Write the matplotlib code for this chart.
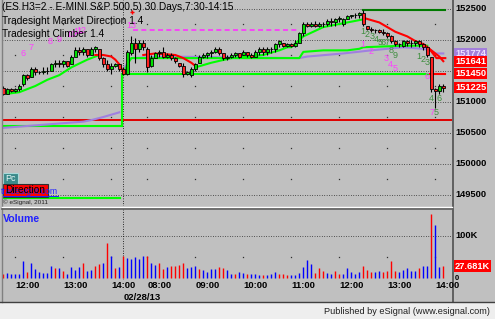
import matplotlib
matplotlib.use("Agg")
import matplotlib.pyplot as plt
import matplotlib.transforms as mtransforms
from matplotlib.patches import Rectangle
from matplotlib.lines import Line2D

W, H = 495, 319
BG = "#C0C0C0"
FONT = "Liberation Sans"

# ---- ES H3 5-minute bars, 11:45 on day 1 through 14:10 on 02/28/13 ----
bar_high = [151250, 151225, 151225, 151225, 151275, 151450, 151450, 151550, 151550, 151500,
            151550, 151550, 151625, 151675, 151675, 151675, 151625, 151750, 151875, 151875,
            151875, 151825, 151875, 151900, 151825, 151725, 151675, 151625, 151625, 151600,
            151550, 151825, 152050, 152025, 152000, 152000, 151875, 151750, 151800, 151825,
            151875, 151775, 151775, 151725, 151625, 151625, 151500, 151550, 151625, 151750,
            151775, 151800, 151825, 151875, 151875, 151775, 151750, 151775, 151800, 151775,
            151825, 151800, 151775, 151825, 151875, 151875, 151875, 151875, 151950, 152000,
            151950, 151950, 151950, 152000, 152125, 152275, 152275, 152275, 152300, 152275,
            152275, 152325, 152350, 152350, 152375, 152350, 152400, 152400, 152425, 152450,
            152475, 152225, 152200, 152175, 152175, 152175, 152125, 152075, 152000, 151950,
            152000, 152000, 152000, 152000, 152000, 151950, 151900, 151725, 151225, 151275,
            151275]
bar_low = [151100, 151125, 151150, 151150, 151175, 151250, 151350, 151400, 151425, 151450,
           151450, 151450, 151500, 151550, 151550, 151550, 151550, 151600, 151750, 151750,
           151750, 151725, 151750, 151800, 151675, 151550, 151500, 151450, 151550, 151500,
           151425, 151425, 151750, 151625, 151800, 151825, 151475, 151550, 151700, 151725,
           151700, 151700, 151675, 151625, 151550, 151400, 151425, 151400, 151500, 151625,
           151700, 151700, 151725, 151775, 151750, 151675, 151675, 151700, 151725, 151700,
           151750, 151725, 151700, 151725, 151750, 151750, 151750, 151775, 151800, 151875,
           151875, 151875, 151875, 151875, 151950, 152050, 152200, 152200, 152200, 152200,
           152200, 152225, 152225, 152225, 152275, 152225, 152325, 152350, 152350, 152350,
           152225, 152150, 152125, 152100, 152100, 152075, 152025, 151950, 151900, 151875,
           151875, 151900, 151875, 151900, 151875, 151825, 151725, 151150, 150900, 151125,
           151150]
bar_open = [151225, 151125, 151200, 151175, 151200, 151275, 151425, 151400, 151525, 151475,
            151475, 151500, 151500, 151600, 151625, 151600, 151650, 151600, 151725, 151825,
            151800, 151850, 151750, 151850, 151850, 151700, 151600, 151525, 151575, 151600,
            151525, 151450, 151775, 151950, 151850, 151950, 151850, 151575, 151700, 151775,
            151800, 151725, 151750, 151700, 151625, 151575, 151450, 151425, 151525, 151625,
            151725, 151750, 151775, 151800, 151850, 151775, 151700, 151725, 151750, 151775,
            151750, 151800, 151750, 151725, 151800, 151850, 151800, 151850, 151850, 151925,
            151950, 151900, 151925, 151900, 151950, 152100, 152250, 152225, 152250, 152225,
            152250, 152250, 152300, 152275, 152325, 152250, 152325, 152375, 152400, 152400,
            152425, 152225, 152175, 152150, 152150, 152125, 152100, 152050, 151975, 151925,
            151900, 151975, 151950, 151950, 151975, 151925, 151875, 151725, 151200, 151175,
            151250]
bar_close = [151125, 151200, 151175, 151200, 151250, 151425, 151375, 151525, 151475, 151475,
             151500, 151500, 151600, 151625, 151600, 151650, 151575, 151725, 151825, 151800,
             151850, 151750, 151850, 151875, 151700, 151600, 151525, 151575, 151600, 151525,
             151450, 151800, 151950, 151850, 151950, 151875, 151550, 151700, 151775, 151800,
             151725, 151750, 151700, 151650, 151575, 151450, 151475, 151525, 151600, 151725,
             151750, 151775, 151800, 151850, 151775, 151700, 151725, 151750, 151775, 151725,
             151800, 151750, 151725, 151800, 151850, 151800, 151850, 151850, 151925, 151975,
             151900, 151925, 151900, 151950, 152100, 152250, 152225, 152250, 152225, 152250,
             152250, 152300, 152275, 152325, 152350, 152325, 152375, 152400, 152400, 152425,
             152250, 152175, 152150, 152150, 152125, 152100, 152050, 151975, 151925, 151925,
             151975, 151950, 151950, 151975, 151925, 151875, 151750, 151200, 151175, 151250,
             151225]

# volume in thousands, r = down bar, b = up bar
volume_k = [9, 11, 9, 9, 9, 40, 14, 36, 21, 13, 12, 12, 27, 24, 24, 17, 9, 25, 19, 26,
            34, 17, 19, 29, 33, 35, 83, 52, 24, 25, 52, 46, 44, 50, 44, 52, 52, 34, 30, 34,
            21, 25, 28, 28, 30, 35, 24, 26, 28, 21, 19, 13, 21, 21, 25, 24, 18, 9, 9, 13,
            11, 9, 9, 9, 7, 7, 6, 9, 13, 9, 9, 6, 7, 6, 12, 26, 42, 33, 12, 24,
            16, 12, 10, 17, 9, 9, 24, 14, 10, 13, 28, 18, 14, 14, 17, 14, 16, 40, 16, 13,
            19, 24, 16, 17, 22, 29, 27, 152, 125, 25, 27.681]
volume_dir = ("rbbbbbrbbb" "bbbrbrbbbb" "rbbrrbrbrb" "rbbbbbrbbr" "rbrrrrbbbr"
              "bbbbrrbbrb" "brbbbrbbbr" "rrbbbbbbrr" "rbbrrbbbbb" "rrrbbrrrrb"
              "bbbbrbbrbbr")

day_starts = [0, 30]
hour_bars = [3, 15, 27, 36, 48, 60, 72, 84, 96, 108]
hour_labels = ["12:00", "13:00", "14:00", "08:00", "09:00", "10:00", "11:00", "12:00", "13:00", "14:00"]
date_label = "02/28/13"

price_ticks = [152500, 152000, 151000, 150500, 150000, 149500]
grid_levels = [152500, 152000, 151500, 151000, 150500, 150000, 149500]

# indicator lines, read at their turning points (bar index, value)
trail_green_1x = [1, 4, 8, 11, 14, 17, 21, 24]
trail_green_1y = [151125, 151150, 151250, 151350, 151425, 151550, 151675, 151750]
trail_green_2x = [48, 52, 57, 61, 65, 69, 71, 72, 75, 80, 86, 90]
trail_green_2y = [151550, 151625, 151700, 151725, 151750, 151825, 151875, 151875, 152050, 152200, 152275, 152325]
climber_x = [30, 31, 32, 74, 75, 80, 86, 89, 90, 100, 106]
climber_y = [151425, 151600, 151700, 151700, 151800, 151825, 151825, 151850, 151875, 151900, 151900]
trail_red_1x = [23, 25, 27, 28, 29, 30]
trail_red_1y = [151750, 151750, 151725, 151675, 151600, 151475]
trail_red_2x = [35, 38, 43, 45, 47, 48]
trail_red_2y = [151750, 151775, 151750, 151700, 151625, 151575]
trail_red_3x = [90, 94, 98, 101, 103, 105, 107, 109, 110]
trail_red_3y = [152350, 152275, 152125, 152050, 151975, 151925, 151825, 151725, 151650]
trail_red_4x = [105, 106.5, 108.3, 110.5]
trail_red_4y = [151925, 151850, 151700, 151700]
vwap_1x = [0, 10, 20, 22, 25, 29]
vwap_1y = [150575, 150625, 150675, 150700, 150750, 150825]
vwap_2x = [30, 31, 32, 40, 74, 76, 85, 92, 100, 105, 107, 108, 110]
vwap_2y = [151500, 151625, 151700, 151725, 151700, 151725, 151775, 151825, 151875, 151850, 151825, 151775, 151775]

red_level = 150700
day_levels = [150600, 151450]
level_broken_bar = 106.7
day1_low_level = 149450
high_of_day = 152475
high_bar = 89.8
setup_level = 152150
setup_span = [32.4, 74]

# TD style counts: (text, bar, price)
magenta_counts = [("6", 5.0, 151775), ("7", 7.0, 151875), ("8", 11.8, 151975), ("9", 14.0, 152000),
                  ("10", 16.9, 152075), ("11", 18.6, 152125), ("12", 19.6, 152150), ("13", 32.1, 152225),
                  ("1", 89.8, 151925), ("2", 92.0, 151800), ("3", 95.8, 151700), ("4", 96.8, 151600),
                  ("5", 98.0, 151525), ("6", 105.9, 151400), ("7", 107.1, 150825)]
green_counts = [("1", 89.9, 152125), ("2", 91.0, 152075), ("3", 92.2, 152050), ("4", 93.2, 152000),
                ("5", 94.2, 151950), ("6", 95.0, 151950), ("7", 96.0, 151950), ("8", 96.9, 151825),
                ("9", 98.0, 151750), ("1", 104.0, 151725), ("2", 105.0, 151675), ("3", 106.0, 151625),
                ("4", 107.0, 151050), ("5", 108.2, 150825), ("6", 109.0, 151050)]

value_boxes = [("151774", 151774, "#A37FDB", "#EDE0FF"), ("151641", 151641, "#FF0000", "white"),
               ("151450", 151450, "#FF0000", "white"), ("151225", 151225, "#FF0000", "white")]
last_volume_label = "27.681K"

# ---- pixel helpers ----
PPX = 500 / 31.0          # price points per pixel
VPX = 100 / 42.0          # volume (K) per pixel


def fx(x):
    return x / W


def fy(y):
    return 1 - y / H


fig = plt.figure(figsize=(W / 100, H / 100), dpi=100, facecolor=BG)
ax = fig.add_axes([fx(2), fy(206), 450 / W, 206 / H])
axv = fig.add_axes([fx(2), fy(280), 450 / W, 71 / H])
for a in (ax, axv):
    a.set_facecolor(BG)
    a.set_xlim(-0.325, 112.175)
    for s in a.spines.values():
        s.set_visible(False)
    a.set_xticks([])
    a.set_yticks([])
ax.set_ylim(152500 - 197.5 * PPX, 152500 + 8.5 * PPX)
axv.set_ylim(-2.3 * VPX, 68.7 * VPX)

dots = (0, (0.72, 1.7))
n = len(bar_close)
xs = list(range(n))

# grid
for lv in grid_levels:
    ax.axhline(lv, color="#303030", lw=0.72, ls=dots, zorder=1)
mids = [(grid_levels[k] + grid_levels[k + 1]) / 2 for k in range(len(grid_levels) - 1)]
for hb in hour_bars:
    ax.plot([hb] * len(mids), mids, ls="none", marker="s", ms=0.9, color="#303030", mew=0, zorder=1)
    axv.plot([hb], [50], ls="none", marker="s", ms=0.9, color="#303030", mew=0, zorder=1)
axv.axhline(100, color="#303030", lw=0.72, ls=dots, zorder=1)
for a in (ax, axv):
    a.axvline(day_starts[1], color="black", lw=0.72, ls=dots, zorder=1)

# horizontal levels
ax.axhline(red_level, color="#E00000", lw=1.4, zorder=2)
ax.plot([-0.5, day_starts[1] - 0.4], [day_levels[0]] * 2, color="#00FF00", lw=1.5, zorder=2)
ax.plot([day_starts[1] - 0.4] * 2, day_levels, color="#00FF00", lw=1.5, zorder=2)
ax.plot([day_starts[1] - 0.4, level_broken_bar], [day_levels[1]] * 2, color="#00FF00", lw=1.5, zorder=2)
ax.plot([level_broken_bar, n - 0.5], [day_levels[1]] * 2, color="#FF0000", lw=1.5, zorder=2)
ax.plot([-0.5, day_starts[1] - 0.8], [day1_low_level] * 2, color="#00FF00", lw=1.5, zorder=2)
ax.plot([high_bar, n - 0.5], [high_of_day] * 2, color="#007A00", lw=1.5, zorder=2)
ax.plot(setup_span, [setup_level] * 2, color="#FF33FF", lw=1.2, ls=(0, (3, 2)), zorder=2)

# indicator lines
ax.plot(vwap_1x, vwap_1y, color="#A080E0", lw=1.5, zorder=3)
ax.plot(vwap_2x, vwap_2y, color="#A080E0", lw=1.5, zorder=3)
ax.plot(climber_x, climber_y, color="#00FF00", lw=1.5, zorder=3)
ax.plot(trail_green_1x, trail_green_1y, color="#00FF00", lw=1.5, zorder=3)
ax.plot(trail_green_2x, trail_green_2y, color="#00FF00", lw=1.5, zorder=3)
for tx, ty in [(trail_red_1x, trail_red_1y), (trail_red_2x, trail_red_2y),
               (trail_red_3x, trail_red_3y), (trail_red_4x, trail_red_4y)]:
    ax.plot(tx, ty, color="#FF0000", lw=1.5, zorder=3)

# candles
ax.vlines(xs, bar_low, bar_high, color="black", lw=0.8, zorder=4)
body_lo = [min(o, c) for o, c in zip(bar_open, bar_close)]
body_h = [abs(c - o) for o, c in zip(bar_open, bar_close)]
body_col = ["#00E000" if c > o else "#FF2020" for o, c in zip(bar_open, bar_close)]
ax.bar(xs, body_h, bottom=body_lo, width=0.7, color=body_col, edgecolor="black", linewidth=0.6, zorder=5)
ax.plot([32.1], [152450], ls="none", marker="+", ms=3, color="red", mew=1, zorder=6)

# counts
for t, bx, p in magenta_counts:
    ax.text(bx, p, t, color="#FF40FF", fontsize=6.5, family=FONT, ha="center", va="center", zorder=7)
for t, bx, p in green_counts:
    ax.text(bx, p, t, color="#3E8E3E", fontsize=6.5, family=FONT, ha="center", va="center", zorder=7)

# volume
vcol = ["#FF0000" if d == "r" else "#0000FF" for d in volume_dir]
axv.vlines(xs, 0, volume_k, colors=vcol, lw=1.0, zorder=3)

# right axis labels
tp = mtransforms.blended_transform_factory(ax.transAxes, ax.transData)
lx = (455 - 2) / 450
for p in price_ticks:
    ax.text(lx, p, str(p), transform=tp, ha="left", va="center", fontsize=6.7,
            fontweight="bold", family=FONT, clip_on=False)
for t, p, fc, tc in value_boxes:
    ax.text(lx, p, t, transform=tp, ha="left", va="center", fontsize=6.7, fontweight="bold",
            family=FONT, color=tc, clip_on=False,
            bbox=dict(boxstyle="square,pad=0.12", fc=fc, ec="none"))
tv = mtransforms.blended_transform_factory(axv.transAxes, axv.transData)
axv.text(lx, 100, "100K", transform=tv, ha="left", va="center", fontsize=6.7,
         fontweight="bold", family=FONT, clip_on=False)
axv.text(lx, -1, "0", transform=tv, ha="left", va="center", fontsize=5.5,
         fontweight="bold", family=FONT, clip_on=False)
axv.text(lx, volume_k[-1], last_volume_label, transform=tv, ha="left", va="center", fontsize=6.7,
         fontweight="bold", family=FONT, color="white", clip_on=False,
         bbox=dict(boxstyle="square,pad=0.12", fc="#FF0000", ec="none"))

# time labels
for hb, lab in zip(hour_bars, hour_labels):
    fig.text(fx(3.3 + 4 * hb + 0.5), fy(286), lab, ha="left", va="center", fontsize=6.8,
             fontweight="bold", family=FONT)
fig.text(fx(3.3 + 4 * day_starts[1]), fy(298), date_label, ha="left", va="center", fontsize=6.8,
         fontweight="bold", family=FONT)

# header texts
fig.text(fx(2), fy(7), "(ES H3=2 - E-MINI S&P 500,5) 30 Days,7:30-14:15", ha="left", va="center",
         fontsize=7.3, family=FONT, color="black")
fig.text(fx(2), fy(20.5), "Tradesight Market Direction 1.4", ha="left", va="center",
         fontsize=7.3, family=FONT, color="black")
fig.text(fx(2), fy(34), "Tradesight Climber 1.4", ha="left", va="center",
         fontsize=7.3, family=FONT, color="black")
fig.text(fx(3), fy(218.5), "Volume", ha="left", va="center", fontsize=7.6, fontweight="bold",
         family=FONT, color="#2020FF")

# little study buttons bottom-left of the price pane
fig.text(fx(58), fy(192), "tradesight.com", ha="right", va="center", fontsize=6.2,
         family=FONT, color="#2020FF")
fig.add_artist(Line2D([fx(2), fx(58)], [fy(196), fy(196)], color="#2020FF", lw=0.7))
fig.add_artist(Rectangle((fx(3), fy(184)), 15 / W, 11 / H, fc="#3A8A8A", ec="#A8D8D8", lw=0.8))
fig.text(fx(10.5), fy(178.5), "Pc", ha="center", va="center", fontsize=6.5, family=FONT, color="#E8F8F8")
fig.add_artist(Rectangle((fx(2.5), fy(197)), 45 / W, 13 / H, fc="#FF0000", ec="#303030", lw=0.8))
fig.text(fx(25), fy(190.5), "Direction", ha="center", va="center", fontsize=7.3, family=FONT, color="black")
fig.text(fx(3), fy(202.5), "\u00a9 eSignal, 2011", ha="left", va="center", fontsize=4.6, family=FONT,
         color="#202020")

# frame lines
fig.add_artist(Line2D([fx(1.5), fx(1.5)], [fy(0), fy(302)], color="#808080", lw=1))
fig.add_artist(Line2D([fx(452.5), fx(452.5)], [fy(0), fy(302)], color="#505050", lw=1.2))
fig.add_artist(Line2D([fx(2), fx(452)], [fy(207.2), fy(207.2)], color="white", lw=1))
fig.add_artist(Line2D([fx(2), fx(452)], [fy(209), fy(209)], color="#606060", lw=1.2))

# footer
fig.add_artist(Rectangle((0, 0), 1, 17 / H, fc="#EEEEEE", ec="none"))
fig.add_artist(Line2D([0, 1], [fy(302), fy(302)], color="#404040", lw=1))
fig.text(fx(490), fy(311), "Published by eSignal (www.esignal.com)", ha="right", va="center",
         fontsize=6.6, family=FONT, color="#202020")

fig.savefig("out.png", dpi=100, facecolor=BG)
